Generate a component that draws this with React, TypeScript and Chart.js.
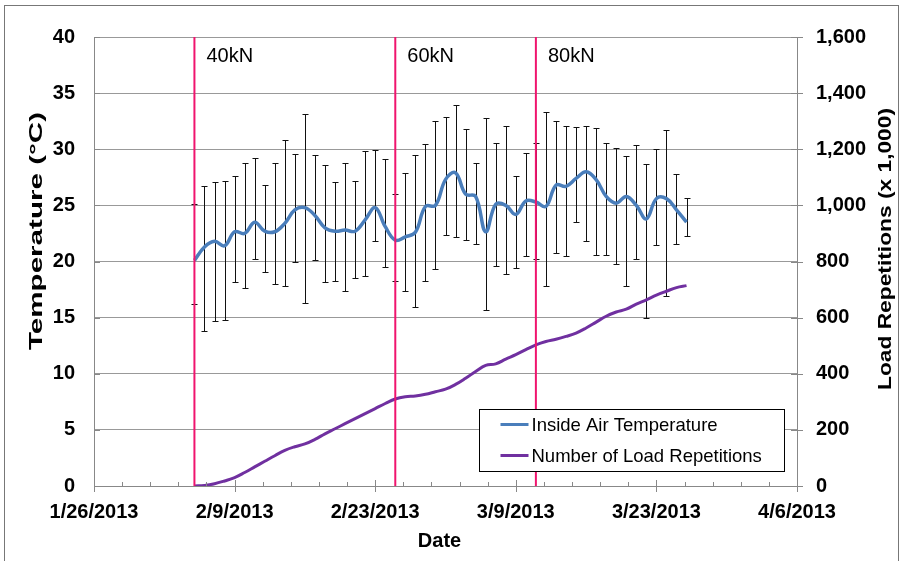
import React, { useEffect, useRef } from 'react';
import { Chart, registerables } from 'chart.js';

Chart.register(...registerables);

// ---------------- data ----------------
const axisStart = '1/26/2013';
const axisEnd = '4/6/2013';
const axisStepDays = 14;

const dates = [
  '2/5/2013', '2/6/2013', '2/7/2013', '2/8/2013', '2/9/2013', '2/10/2013', '2/11/2013', '2/12/2013',
  '2/13/2013', '2/14/2013', '2/15/2013', '2/16/2013', '2/17/2013', '2/18/2013', '2/19/2013', '2/20/2013',
  '2/21/2013', '2/22/2013', '2/23/2013', '2/24/2013', '2/25/2013', '2/26/2013', '2/27/2013', '2/28/2013',
  '3/1/2013', '3/2/2013', '3/3/2013', '3/4/2013', '3/5/2013', '3/6/2013', '3/7/2013', '3/8/2013',
  '3/9/2013', '3/10/2013', '3/11/2013', '3/12/2013', '3/13/2013', '3/14/2013', '3/15/2013', '3/16/2013',
  '3/17/2013', '3/18/2013', '3/19/2013', '3/20/2013', '3/21/2013', '3/22/2013', '3/23/2013', '3/24/2013',
  '3/25/2013', '3/26/2013',
];

const tempMean = [
  20.1, 21.3, 21.8, 21.4, 22.65, 22.5, 23.5, 22.7, 22.65, 23.4,
  24.6, 24.8, 24.1, 23.0, 22.7, 22.8, 22.7, 23.7, 24.8, 23.1,
  21.9, 22.2, 22.6, 24.9, 25.0, 27.3, 27.9, 26.0, 25.8, 22.65,
  25.1, 25.0, 24.2, 25.4, 25.3, 24.9, 26.8, 26.7, 27.4, 28.0,
  27.3, 25.8, 25.2, 25.8, 25.0, 23.8, 25.6, 25.6, 24.6, 23.5,
];

const tempHigh = [
  25.1, 26.7, 27.1, 27.2, 27.6, 28.8, 29.2, 26.8, 28.8, 30.8,
  29.6, 33.1, 29.5, 28.6, 27.1, 28.8, 27.2, 29.8, 29.9, 29.1,
  26.0, 27.9, 29.5, 30.5, 32.5, 32.9, 33.9, 31.8, 28.8, 32.8,
  30.6, 32.1, 27.65, 29.7, 30.6, 33.3, 32.5, 32.1, 32.0, 32.1,
  31.9, 30.6, 30.1, 29.4, 30.4, 28.7, 30.0, 31.7, 27.8, 25.7,
];

const tempLow = [
  16.25, 13.8, 14.7, 14.8, 18.2, 17.65, 20.2, 19.1, 18.0, 17.8,
  20.0, 16.3, 20.1, 18.2, 18.3, 17.35, 18.5, 18.7, 21.8, 19.5,
  18.3, 17.35, 15.95, 18.3, 19.3, 22.4, 22.2, 21.9, 21.6, 15.65,
  19.6, 18.9, 19.4, 20.5, 20.2, 17.8, 20.8, 20.5, 23.5, 21.8,
  20.6, 20.6, 19.8, 17.8, 20.2, 15.0, 21.5, 16.9, 21.6, 22.3,
];

const loadReps = [
  0, 2, 8, 18, 30, 48, 68, 88, 108, 127,
  140, 150, 166, 186, 204, 222, 240, 258, 276, 294,
  310, 318, 321, 327, 336, 345, 362, 384, 408, 430,
  435, 452, 468, 486, 503, 515, 523, 533, 545, 563,
  584, 605, 620, 630, 648, 663, 680, 694, 707, 714,
];

const phaseDates = ['2/5/2013', '2/25/2013', '3/11/2013'];
const phaseLabels = ['40kN', '60kN', '80kN'];

const seriesLabels = ['Inside Air Temperature', 'Number of Load Repetitions'];
const tempAxisTitle = 'Temperature (°C)';
const loadAxisTitle = 'Load Repetitions (x 1,000)';
const dateAxisTitle = 'Date';

// ---------------- helpers ----------------
const parseDate = (s: string) => {
  const [m, d, y] = s.split('/').map(Number);
  return Date.UTC(y, m - 1, d);
};
const DAY = 86400000;
const base = parseDate(axisStart);
const dayNum = (s: string) => Math.round((parseDate(s) - base) / DAY);
const fmtDay = (v: number) => {
  const dt = new Date(base + v * DAY);
  return `${dt.getUTCMonth() + 1}/${dt.getUTCDate()}/${dt.getUTCFullYear()}`;
};

const FONT = "'Liberation Sans', Arial, sans-serif";
const BLUE = '#4A7EBB';
const PURPLE = '#7030A0';
const PINK = '#F0146E';

const drawStretched = (
  ctx: CanvasRenderingContext2D,
  text: string,
  cx: number,
  cy: number,
  rot: number,
  font: string,
  targetLen: number
) => {
  ctx.save();
  ctx.translate(cx, cy);
  ctx.rotate(rot);
  ctx.font = font;
  const w = ctx.measureText(text).width;
  ctx.scale(targetLen / w, 1);
  ctx.textAlign = 'center';
  ctx.textBaseline = 'middle';
  ctx.fillStyle = '#000';
  ctx.fillText(text, 0, 0);
  ctx.restore();
};

const errorBarPlugin = {
  id: 'errorBars',
  beforeDatasetsDraw(chart: any) {
    const { ctx } = chart;
    const xs = chart.scales.x;
    const ys = chart.scales.y;
    ctx.save();
    ctx.strokeStyle = '#111';
    ctx.lineWidth = 1;
    dates.forEach((d, i) => {
      const x = Math.round(xs.getPixelForValue(dayNum(d))) + 0.5;
      const yh = Math.round(ys.getPixelForValue(tempHigh[i])) + 0.5;
      const yl = Math.round(ys.getPixelForValue(tempLow[i])) + 0.5;
      ctx.beginPath();
      ctx.moveTo(x, yh);
      ctx.lineTo(x, yl);
      ctx.moveTo(x - 3, yh);
      ctx.lineTo(x + 3, yh);
      ctx.moveTo(x - 3, yl);
      ctx.lineTo(x + 3, yl);
      ctx.stroke();
    });
    ctx.restore();
  },
};

const decorPlugin = {
  id: 'decor',
  afterDraw(chart: any) {
    const { ctx, chartArea } = chart;
    const xs = chart.scales.x;
    const ys = chart.scales.y;
    const y2 = chart.scales.y2;
    const { left, right, top, bottom } = chartArea;
    ctx.save();
    // tick marks
    ctx.strokeStyle = '#888';
    ctx.lineWidth = 1;
    ctx.beginPath();
    ys.ticks.forEach((t: any) => {
      const y = Math.round(ys.getPixelForValue(t.value)) + 0.5;
      ctx.moveTo(left, y);
      ctx.lineTo(left + 6, y);
    });
    y2.ticks.forEach((t: any) => {
      const y = Math.round(y2.getPixelForValue(t.value)) + 0.5;
      ctx.moveTo(right - 6, y);
      ctx.lineTo(right + 6, y);
    });
    const span = xs.max - xs.min;
    for (let k = 0; k <= 25; k++) {
      const v = xs.min + (span * k) / 25;
      const x = Math.round(xs.getPixelForValue(v)) + 0.5;
      if (k % 5 === 0) {
        ctx.moveTo(x, bottom - 6);
        ctx.lineTo(x, bottom + 6);
      } else {
        ctx.moveTo(x, bottom - 4);
        ctx.lineTo(x, bottom);
      }
    }
    ctx.stroke();

    // phase labels
    ctx.fillStyle = '#000';
    ctx.font = `20px ${FONT}`;
    ctx.textAlign = 'left';
    ctx.textBaseline = 'middle';
    phaseDates.forEach((d, i) => {
      const x = xs.getPixelForValue(dayNum(d));
      ctx.fillText(phaseLabels[i], x + 12, top + 19);
    });

    // axis titles
    drawStretched(ctx, tempAxisTitle, 37, 231, -Math.PI / 2, `bold 19px ${FONT}`, 238);
    drawStretched(ctx, loadAxisTitle, 886, 249, -Math.PI / 2, `bold 19px ${FONT}`, 282);
    ctx.font = `bold 20px ${FONT}`;
    ctx.textAlign = 'center';
    ctx.textBaseline = 'middle';
    ctx.fillText(dateAxisTitle, (left + right) / 2 - 6, 541);

    // legend
    const lx = 479.5, ly = 409.5, lw = 305, lh = 62;
    ctx.fillStyle = '#fff';
    ctx.fillRect(lx, ly, lw, lh);
    ctx.strokeStyle = '#000';
    ctx.lineWidth = 1;
    ctx.strokeRect(lx, ly, lw, lh);
    const legendColors = [BLUE, PURPLE];
    ctx.font = `18.5px ${FONT}`;
    ctx.textAlign = 'left';
    ctx.textBaseline = 'middle';
    seriesLabels.forEach((lab, i) => {
      const yy = ly + 15 + i * 31;
      ctx.strokeStyle = legendColors[i];
      ctx.lineWidth = 3;
      ctx.beginPath();
      ctx.moveTo(lx + 21, yy);
      ctx.lineTo(lx + 49, yy);
      ctx.stroke();
      ctx.fillStyle = '#000';
      ctx.fillText(lab, lx + 52, yy + 1);
    });

    // outer frame
    ctx.strokeStyle = '#777';
    ctx.lineWidth = 1;
    ctx.strokeRect(4.5, 5.5, 894, 600);
    ctx.restore();
  },
};

export default function App() {
  const ref = useRef<HTMLCanvasElement | null>(null);

  useEffect(() => {
    if (!ref.current) return;
    const tickFont = { family: FONT, size: 20, weight: 'bold' as const };
    const chart = new Chart(ref.current, {
      type: 'line',
      data: {
        datasets: [
          ...phaseDates.map((d) => ({
            label: '',
            data: [
              { x: dayNum(d), y: 0 },
              { x: dayNum(d), y: 40 },
            ],
            borderColor: PINK,
            borderWidth: 2,
            pointRadius: 0,
            tension: 0,
            yAxisID: 'y',
          })),
          {
            label: seriesLabels[0],
            data: dates.map((d, i) => ({ x: dayNum(d), y: tempMean[i] })),
            borderColor: BLUE,
            borderWidth: 3.5,
            pointRadius: 0,
            tension: 0.4,
            yAxisID: 'y',
          },
          {
            label: seriesLabels[1],
            data: dates.map((d, i) => ({ x: dayNum(d), y: loadReps[i] })),
            borderColor: PURPLE,
            borderWidth: 3,
            pointRadius: 0,
            tension: 0.4,
            yAxisID: 'y2',
          },
        ],
      },
      options: {
        animation: false,
        responsive: false,
        devicePixelRatio: 1,
        layout: { padding: { top: 37, left: 0, right: 0, bottom: 0 } },
        plugins: {
          legend: { display: false },
          tooltip: { enabled: false },
          title: { display: false },
        },
        scales: {
          x: {
            type: 'linear',
            min: dayNum(axisStart),
            max: dayNum(axisEnd),
            ticks: {
              stepSize: axisStepDays,
              callback: (v: any) => fmtDay(Number(v)),
              font: tickFont,
              color: '#000',
              padding: 14,
              maxRotation: 0,
              autoSkip: false,
            },
            grid: { drawOnChartArea: false, drawTicks: false },
            border: { display: true, color: '#888' },
            afterFit: (s: any) => {
              s.height = 75;
            },
          },
          y: {
            type: 'linear',
            position: 'left',
            min: 0,
            max: 40,
            ticks: { stepSize: 5, font: tickFont, color: '#000', padding: 19 },
            grid: { color: '#999', drawTicks: false },
            border: { display: true, color: '#888' },
            afterFit: (s: any) => {
              s.width = 94;
            },
          },
          y2: {
            type: 'linear',
            position: 'right',
            min: 0,
            max: 1600,
            ticks: {
              stepSize: 200,
              font: tickFont,
              color: '#000',
              padding: 19,
              callback: (v: any) => Number(v).toLocaleString('en-US'),
            },
            grid: { drawOnChartArea: false, drawTicks: false },
            border: { display: true, color: '#888' },
            afterFit: (s: any) => {
              s.width = 105;
            },
          },
        },
      },
      plugins: [errorBarPlugin, decorPlugin],
    });
    return () => chart.destroy();
  }, []);

  return (
    <div style={{ position: 'absolute', left: 0, top: 0, width: 902, height: 561, background: '#fff' }}>
      <canvas ref={ref} width={902} height={561} style={{ display: 'block', width: 902, height: 561 }} />
    </div>
  );
}
